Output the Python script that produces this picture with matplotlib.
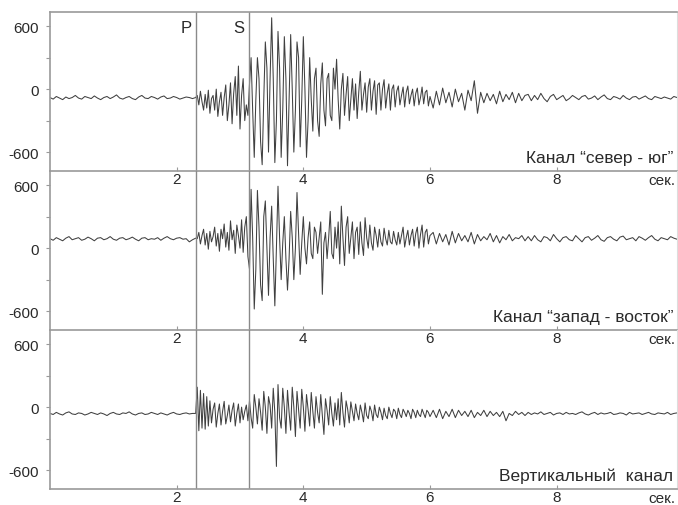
import numpy as np
import matplotlib
matplotlib.use("Agg")
import matplotlib.pyplot as plt

plt.rcParams['font.family'] = ['Liberation Sans', 'DejaVu Sans']

# Sampling grids of the read-off values (seconds)
quiet_t0, quiet_dt = 0.0, 0.05
active_t0, active_dt = 2.325, 0.025
coda_t0, coda_dt = 6.05, 0.05
t_P = 2.31
t_S = 3.14

# ---- Channel "север - юг" ----
ns_quiet = [
    -80, -95, -70, -85, -100, -75, -90, -80, -60, -85, -95, -70, -80, -90, -65, -85, -100, -80, -70, -90,
    -75, -55, -85, -95, -80, -70, -90, -100, -75, -60, -85, -90, -70, -80, -95, -75, -65, -90, -85, -70,
    -80, -95, -85, -75, -80, -90, -80,
]
ns_active = [
    -60, -150, -20, -120, -200, -50, -180, -10, -230, -90, -60, -200, 0, -260, -120, -30, -250, -80,
    40, -300, -150, 60, -330, -40, 120, -250, 220, -380, -60, 100, -300, -150, -250,
    50, 300, -200, -650, -100, 300, 100, -500, -720, -100, 450, 200, -600, 100, 680, 100, -700, -300,
    550, 200, -650, -200, 500, 100, -730, -100, 520, 0, -600, -200, 450, 300, -550, -100, 500, 0,
    -650, -300, 300, -100, -400, 100, 200, -300, -450, 50, 250, -200, -350, 100, 150, -250, -300, 200, 0,
    285, -100, -380, 0, 150, -250, -50, 120, -300, -100, 100, -200, 50, -280, -30, 170, -200, -50,
    60, -220, 20, 100, -200, -20, 80, -240, 40, 60, -200, 0, 90, -180, -40, 50, -200, 0,
    40, -170, -20, 30, -150, -60, 20, -170, -30, 30, -140, -60, 0, -160, -40, 10, -150, -80,
    20, -140, -30, -10, -160, -70,
]
ns_coda = [
    -180, -20, -150, 10, -130, -30, -170, 0, -120, -40, -200, -10, -110, 80, -230, -30, -130, -40,
    -110, -50, -140, -20, -120, -50, -100, -30, -130, -40, -110, -60,
    -50, -110, -60, -100, -40, -90, -120, -70, -50, -100, -80, -60, -110, -90, -60, -80, -100, -70,
    -60, -95, -85, -65, -100, -75, -55, -90, -100, -70, -80, -95, -60, -85, -100, -75, -70, -95,
    -80, -65, -90, -100, -70, -80, -90, -75, -85, -95, -70, -80,
]

# ---- Channel "запад - восток" ----
we_quiet = [
    90, 75, 100, 85, 70, 95, 110, 80, 90, 100, 75, 85, 105, 90, 70, 95, 100, 80, 90, 110,
    85, 75, 95, 100, 80, 90, 105, 85, 70, 95, 100, 80, 90, 85, 100, 75, 95, 110, 90, 80,
    95, 100, 85, 90, 60, 80, 95,
]
we_active = [
    90, 150, 40, 120, 180, 30, 140, -10, 160, 60, 110, 200, 20, 140, -30, 180, 90, 230, 10, 150,
    -20, 260, 80, 170, -50, 220, 120, 0, 270, -40, 200, 300, -80,
    -200, 560, 100, -580, -200, 550, 200, -350, -500, 300, 450, 0, -450, 100, 400, -100, -550, 0,
    590, 100, -300, 50, 300, -100, -400, -100, 350, 100, -300, 0, 530, 150, -250, 50, 300, 0,
    -150, 100, 250, -50, -100, 200, 150, -50, 100, 250, -440, 50, 150, -100, 100, 350, -50, -100, 200,
    0, 250, -150, 400, 100, -165, 200, 300, -50, 100, 250, -100, 150, 200, -60, 250, 50, -70,
    290, 100, 0, 220, 50, -20, 200, 120, 10, 180, 60, 20, 190, 90, 30, 170, 60, 40,
    160, 80, 30, 150, 40, 120, 200, 10, 100, 170, 30, 120, 180, 20, 140, 200, 0, 130,
    220, 10, 150, 180, 40, 120,
]
we_coda = [
    150, 40, 140, 60, 130, 30, 160, 50, 140, 70, 120, 60, 150, 40, 130, 70, 110, 80,
    140, 60, 120, 50, 110, 80, 130, 70, 100, 90, 120, 70,
    110, 70, 120, 80, 60, 110, 100, 70, 130, 90, 60, 100, 110, 80, 70, 120, 90, 60,
    100, 110, 75, 95, 120, 80, 65, 100, 110, 85, 70, 105, 115, 80, 90, 100, 70, 110,
    95, 75, 100, 120, 85, 70, 100, 90, 80, 110, 95, 85,
]

# ---- Vertical channel ----
vz_quiet = [
    -60, -70, -50, -65, -75, -55, -45, -65, -70, -55, -60, -75, -65, -50, -60, -70, -55, -65, -80, -60,
    -50, -65, -70, -55, -60, -45, -65, -75, -60, -55, -70, -65, -50, -60, -70, -55, -65, -75, -60, -50,
    -65, -70, -60, -55, -65, -60, -60,
]
vz_active = [
    190, -225, 160, -200, 130, -210, 100, -180, 60, -150, -20, 40, -190, -60, 30, -170, -40, 55,
    -160, -80, 20, -140, -30, 40, -180, -60, 30, -150, 0, -120, -40, 20, -130,
    60, -100, -200, 120, 0, -160, 80, -50, -220, 150, 0, -250, 100, 20, -200, 180, -50, -565,
    215, -100, -200, 180, 0, -250, 160, -50, -220, 190, 0, -280, 150, -30, -200, 170, 0, -230,
    120, -20, -180, 140, -40, -200, 100, -50, -150, 120, -80, -260, 80, -30, -170, 100, -60, -180, 40,
    -120, 80, -170, 140, -50, -190, 60, -20, -150, 50, -40, -130, 30, -60, -120, 20, -50, -140,
    40, -80, -110, 10, -40, -130, 20, -70, -100, 0, -50, -120, -10, -80, -110, 0, -60, -100,
    -20, -40, -110, -10, -70, -100, -20, -50, -90, -30, -60, -110, -20, -50, -100, -30, -70, -90,
    -20, -60, -100, -30, -50, -90,
]
vz_coda = [
    -30, -100, -20, -110, -40, -90, -20, -100, -30, -80, -40, -90, -30, -100, -50, -80, -30, -90,
    -40, -80, -50, -90, -40, -130, -60, -80, -40, -70, -50, -80,
    -50, -70, -55, -65, -45, -70, -60, -50, -75, -60, -55, -70, -50, -65, -60, -70, -55, -45,
    -65, -75, -60, -50, -70, -55, -65, -60, -50, -70, -65, -55, -60, -75, -50, -65, -60, -55,
    -70, -60, -50, -65, -70, -55, -60, -65, -50, -70, -60, -55,
]

channels = [
    (ns_quiet, ns_active, ns_coda),
    (we_quiet, we_active, we_coda),
    (vz_quiet, vz_active, vz_coda),
]
labels = ['Канал “север - юг”', 'Канал “запад - восток”', 'Вертикальный  канал']
yticks = [-600, 0, 600]
yminor = [-300, 300]
xticks = [2, 4, 6, 8]


def series(quiet, active, coda):
    t = np.concatenate([
        quiet_t0 + np.arange(len(quiet)) * quiet_dt,
        active_t0 + np.arange(len(active)) * active_dt,
        coda_t0 + np.arange(len(coda)) * coda_dt,
    ])
    v = np.concatenate([quiet, active, coda])
    return t, v


W, H = 678, 506
fig = plt.figure(figsize=(W / 100, H / 100), dpi=100)

left = 50 / W
right = 677 / W
top_px = 13
panel_h = 159

spine_c = '#9a9a9a'
text_c = '#2a2a2a'

for k, (segs, lab) in enumerate(zip(channels, labels)):
    y0 = top_px + k * panel_h
    ax = fig.add_axes([left, 1 - (y0 + panel_h) / H, right - left, panel_h / H])
    ax.patch.set_alpha(0)
    tt, vv = series(*segs)
    ax.plot(tt, vv, color='#404040', lw=0.75)
    ax.axvline(t_P, color='#8a8a8a', lw=1.0)
    ax.axvline(t_S, color='#8a8a8a', lw=1.0)
    ax.set_xlim(0, 9.9)
    ax.set_ylim(-780, 735)
    ax.set_yticks(yticks)
    ax.set_yticks(yminor, minor=True)
    ax.set_yticklabels([str(v) for v in yticks], fontsize=11, color=text_c)
    ax.set_xticks(xticks)
    ax.set_xticklabels([str(v) for v in xticks], fontsize=11, color=text_c)
    ax.tick_params(axis='y', which='both', direction='out', length=3, width=0.8,
                   color=spine_c, pad=5)
    ax.tick_params(axis='x', which='both', direction='in', length=3, width=0.8,
                   color=spine_c, pad=1)
    for s in ['left', 'bottom', 'top']:
        ax.spines[s].set_color(spine_c)
        ax.spines[s].set_linewidth(1.2)
    ax.spines['right'].set_color('#dddddd')
    ax.spines['right'].set_linewidth(0.8)
    if k > 0:
        ax.spines['top'].set_visible(False)
    ax.text(0.994, 0.04, lab, transform=ax.transAxes, ha='right', va='bottom',
            fontsize=12.5, color=text_c)
    ax.text(0.998, -0.012, 'сек.', transform=ax.transAxes, ha='right', va='top',
            fontsize=11, color=text_c)
    if k == 0:
        ax.text(t_P - 0.07, 590, 'P', ha='right', va='center', fontsize=12, color=text_c)
        ax.text(t_S - 0.07, 590, 'S', ha='right', va='center', fontsize=12, color=text_c)

fig.savefig('out.png', dpi=100)
